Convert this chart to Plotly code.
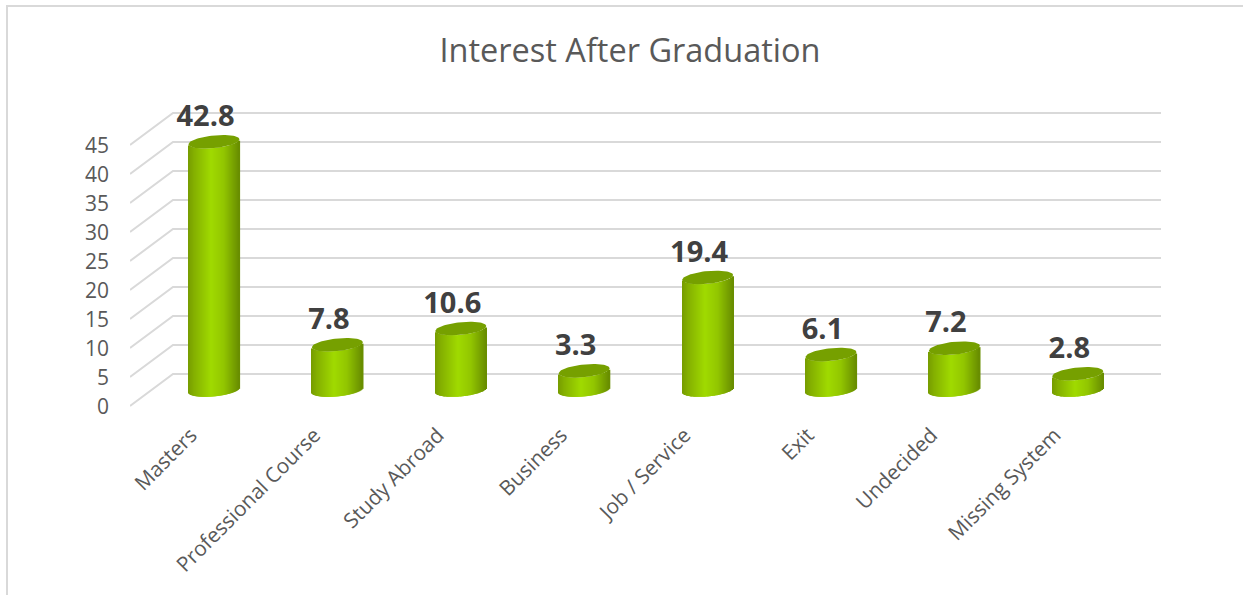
import numpy as np
import plotly.graph_objects as go

categories = ["Masters", "Professional Course", "Study Abroad", "Business",
              "Job / Service", "Exit", "Undecided", "Missing System"]
values = [42.8, 7.8, 10.6, 3.3, 19.4, 6.1, 7.2, 2.8]
tick_values = [0, 5, 10, 15, 20, 25, 30, 35, 40, 45]
title_text = "Interest After Graduation"

W, H = 1250, 595
L, R, T, B = 130, 1161, 90, 415          # plot rectangle in page pixels
ZERO_PX, PX_PER_UNIT = 390, 5.8          # floor centre and value scale
CAT0_PX, PX_PER_CAT = 214, 123.4         # first bar centre and category step
A, MINOR, SLOPE = 25.5, 6.4, -0.095      # cylinder ellipse shape in pixels


def px_y(dy):
    return dy / PX_PER_UNIT


def px_x(dx):
    return dx / PX_PER_CAT


x_pos = list(range(len(categories)))
fig = go.Figure()

# pseudo-3D floor + back wall gridlines, kept below the bars
BACK_DY, FRONT_DY = 16, -16
BACK_X0 = px_x(173 - CAT0_PX)
FRONT_X0 = px_x(L - CAT0_PX)
RIGHT_X = px_x(R - CAT0_PX)
grid_shapes = []
for v in tick_values:
    p = (f"M {FRONT_X0} {v + px_y(FRONT_DY)} L {BACK_X0} {v + px_y(BACK_DY)} "
         f"L {RIGHT_X} {v + px_y(BACK_DY)}")
    grid_shapes.append(dict(type="path", path=p, xref="x", yref="y", layer="below",
                            line=dict(color="#D9D9D9", width=2)))

# cylinder bodies: vertical strips with a horizontal shading ramp
stops = [(0.0, (118, 155, 0)), (0.12, (132, 176, 0)), (0.45, (160, 218, 0)),
         (0.7, (146, 198, 0)), (0.9, (118, 160, 0)), (1.0, (104, 140, 0))]
STRIP = 1.0
n = int(2 * A / STRIP)
for k in range(n):
    dx0 = -A + k * STRIP
    mid = dx0 + STRIP / 2
    t = (mid + A) / (2 * A)
    rgb = [np.interp(t, [s[0] for s in stops], [s[1][c] for s in stops]) for c in range(3)]
    lower = SLOPE * mid + MINOR * np.sqrt(max(0, 1 - (mid / A) ** 2))
    fig.add_trace(go.Bar(
        x=x_pos, y=values, base=[px_y(-lower)] * len(values),
        width=px_x(STRIP + 0.6), offset=px_x(dx0),
        marker=dict(color=f"rgb({rgb[0]:.0f},{rgb[1]:.0f},{rgb[2]:.0f})", line=dict(width=0)),
        showlegend=False, hoverinfo="skip"))

# cylinder tops
phi = np.linspace(0, 2 * np.pi, 80)
for xi, v in zip(x_pos, values):
    ex = A * np.cos(phi)
    ey = -SLOPE * ex + MINOR * np.sin(phi)
    fig.add_trace(go.Scatter(x=xi + px_x(ex), y=v + px_y(ey), mode="lines", fill="toself",
                             fillcolor="#76A000", line=dict(width=0), showlegend=False,
                             hoverinfo="skip"))

# value labels
fig.add_trace(go.Scatter(
    x=[i + px_x(-8.5) for i in x_pos], y=[v + px_y(23) for v in values],
    mode="text", text=[f"{v:.1f}" for v in values], textposition="middle center",
    textfont=dict(family="Open Sans", size=29, color="#404040", weight="bold"),
    cliponaxis=False, showlegend=False, hoverinfo="skip"))

line_shapes = [
    dict(type="line", xref="paper", yref="paper",
         x0=(7 - L) / (R - L), x1=(7 - L) / (R - L),
         y0=(B - 6) / (B - T), y1=(B - H) / (B - T),
         line=dict(color="#D9D9D9", width=2)),
    dict(type="line", xref="paper", yref="paper",
         x0=(6 - L) / (R - L), x1=(1243 - L) / (R - L),
         y0=(B - 6) / (B - T), y1=(B - 6) / (B - T),
         line=dict(color="#D9D9D9", width=2)),
]

fig.update_layout(
    width=W, height=H, barmode="overlay", plot_bgcolor="white", paper_bgcolor="white",
    margin=dict(l=L, r=W - R, t=T, b=H - B, autoexpand=False),
    title=dict(text=title_text, x=630 / W, xanchor="center", y=1 - 51 / H, yanchor="middle",
               font=dict(family="Open Sans", size=32.5, color="#595959")),
    font=dict(family="Open Sans", color="#595959"),
    shapes=grid_shapes + line_shapes, showlegend=False,
    xaxis=dict(range=[FRONT_X0, RIGHT_X], tickmode="array",
               tickvals=[i + px_x(-23) for i in x_pos], ticktext=categories,
               tickangle=-45, showgrid=False, zeroline=False, showline=False,
               ticks="", ticklabelstandoff=3,
               tickfont=dict(size=20.8, color="#595959", family="Open Sans")),
    yaxis=dict(range=[(ZERO_PX - B) / PX_PER_UNIT, (ZERO_PX - T) / PX_PER_UNIT],
               tickmode="array", tickvals=[v + px_y(-17) for v in tick_values],
               ticktext=[str(v) for v in tick_values], showgrid=False, zeroline=False,
               showline=False, ticks="", ticklabelstandoff=20,
               tickfont=dict(size=21, color="#595959", family="Open Sans")),
)

fig.write_html("out.html", config={"displayModeBar": False},
               post_script="document.body.style.margin='0';")
